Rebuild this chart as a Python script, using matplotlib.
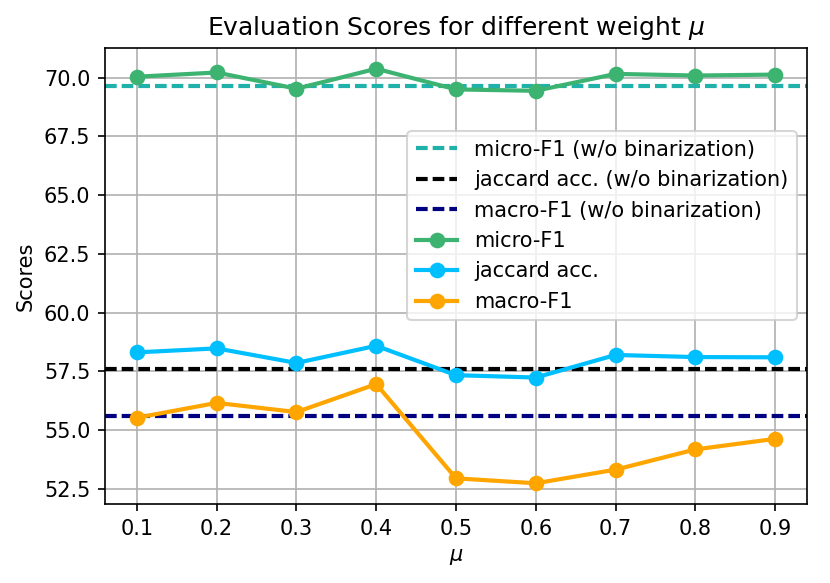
import matplotlib
matplotlib.use("Agg")
import matplotlib.pyplot as plt

mu = [0.1, 0.2, 0.3, 0.4, 0.5, 0.6, 0.7, 0.8, 0.9]
micro_f1 = [70.04, 70.22, 69.53, 70.38, 69.50, 69.44, 70.16, 70.09, 70.13]
jaccard = [58.31, 58.48, 57.86, 58.59, 57.34, 57.24, 58.20, 58.11, 58.10]
macro_f1 = [55.53, 56.16, 55.77, 56.96, 52.95, 52.74, 53.32, 54.18, 54.63]
micro_base = 69.64
jaccard_base = 57.61
macro_base = 55.61

DPI = 150
fig = plt.figure(figsize=(830 / DPI, 583 / DPI), dpi=DPI)
ax = fig.add_axes([105 / 830, 1 - 504 / 583, 702 / 830, 456 / 583])

LW = 2
DASH = (2.8, 1.2)
ax.axhline(micro_base, color="lightseagreen", linestyle="--", dashes=DASH,
           linewidth=LW, label="micro-F1 (w/o binarization)")
ax.axhline(jaccard_base, color="black", linestyle="--", dashes=DASH,
           linewidth=LW, label="jaccard acc. (w/o binarization)")
ax.axhline(macro_base, color="navy", linestyle="--", dashes=DASH,
           linewidth=LW, label="macro-F1 (w/o binarization)")
ax.plot(mu, micro_f1, color="mediumseagreen", marker="o", linewidth=LW,
        markersize=6.5, label="micro-F1")
ax.plot(mu, jaccard, color="deepskyblue", marker="o", linewidth=LW,
        markersize=6.5, label="jaccard acc.")
ax.plot(mu, macro_f1, color="orange", marker="o", linewidth=LW,
        markersize=6.5, label="macro-F1")

ax.set_xticks(mu)
ax.set_xticklabels([str(m) for m in mu])
ax.grid(True, color="#b0b0b0", linewidth=0.8)
ax.set_xlabel(r"$\mu$")
ax.set_ylabel("Scores")
ax.set_title(r"Evaluation Scores for different weight $\mu$", fontsize=12)
ax.legend(loc="upper right", bbox_to_anchor=(1, 0.84))

fig.savefig("out.png", dpi=DPI)
